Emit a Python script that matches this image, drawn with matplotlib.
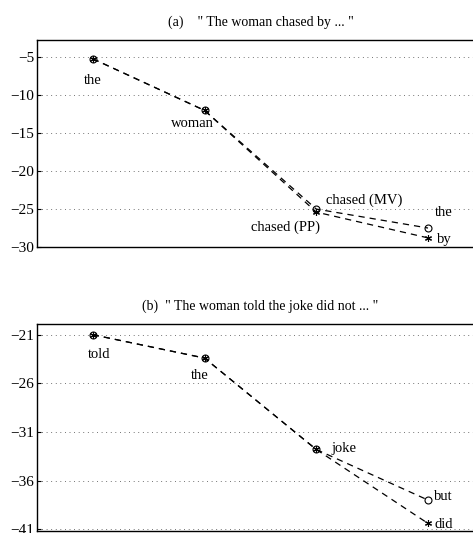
import matplotlib.pyplot as plt
from matplotlib.ticker import FixedLocator

plt.rcParams["font.family"] = ["Liberation Serif", "DejaVu Serif"]

positions = [1, 2, 3, 4]

# panel (a): "The woman chased by ..."
a_mv = [-5.2, -12.0, -25.0, -27.5]
a_pp = [-5.2, -12.0, -25.4, -28.8]
a_ticks = [-30, -25, -20, -15, -10, -5]
a_words = ["the", "woman", "chased (MV)", "chased (PP)", "the", "by"]

# panel (b): "The woman told the joke did not ..."
b_mv = [-21.0, -23.4, -32.8, -38.0]
b_pp = [-21.0, -23.4, -32.8, -40.4]
b_ticks = [-41, -36, -31, -26, -21]
b_words = ["told", "the", "joke", "but", "did"]

ASTERISK = (6, 2, 0)


def draw(ax, mv, pp, ticks, ylim, title):
    ax.plot(positions, mv, ls="--", color="black", lw=0.9, dashes=(5, 4),
            marker="o", ms=5, mfc="none", mec="black", mew=0.8)
    ax.plot(positions, pp, ls="--", color="black", lw=0.9, dashes=(5, 4),
            marker=ASTERISK, ms=5, mec="black", mew=0.8)
    ax.set_xlim(0.5, 4.5)
    ax.set_ylim(*ylim)
    ax.yaxis.set_major_locator(FixedLocator(ticks))
    ax.set_yticklabels([f"\u2212{abs(t)}" for t in ticks])
    ax.set_xticks([])
    ax.grid(axis="y", ls=(0, (1, 4.5)), color="#444444", lw=0.6)
    ax.tick_params(axis="y", direction="in", length=3, labelsize=11, pad=2)
    ax.spines["right"].set_visible(False)
    for s in ("left", "top", "bottom"):
        ax.spines[s].set_linewidth(1.0)
    ax.set_title(title, fontsize=10, pad=10)


fig = plt.figure(figsize=(4.73, 5.33), dpi=100)
ax1 = fig.add_axes([0.078, 0.5366, 0.945, 0.388])
ax2 = fig.add_axes([0.078, 0.0043, 0.945, 0.3878])

draw(ax1, a_mv, a_pp, a_ticks, (-30, -2.75),
     '(a)    " The woman chased by ... "')
draw(ax2, b_mv, b_pp, b_ticks, (-41.15, -19.9),
     '(b)  " The woman told the joke did not ... "')

fs = 10.5
ax1.text(1.0, -8.0, a_words[0], ha="center", va="center", fontsize=fs)
ax1.text(1.89, -13.7, a_words[1], ha="center", va="center", fontsize=fs)
ax1.text(3.09, -23.8, a_words[2], ha="left", va="center", fontsize=fs)
ax1.text(3.03, -27.4, a_words[3], ha="right", va="center", fontsize=fs)
ax1.text(4.06, -25.4, a_words[4], ha="left", va="center", fontsize=fs)
ax1.text(4.08, -29.0, a_words[5], ha="left", va="center", fontsize=fs)

ax2.text(1.06, -23.0, b_words[0], ha="center", va="center", fontsize=fs)
ax2.text(1.96, -25.2, b_words[1], ha="center", va="center", fontsize=fs)
ax2.text(3.14, -32.7, b_words[2], ha="left", va="center", fontsize=fs)
ax2.text(4.05, -37.6, b_words[3], ha="left", va="center", fontsize=fs)
ax2.text(4.06, -40.5, b_words[4], ha="left", va="center", fontsize=fs)

fig.savefig("out.png", dpi=100)
